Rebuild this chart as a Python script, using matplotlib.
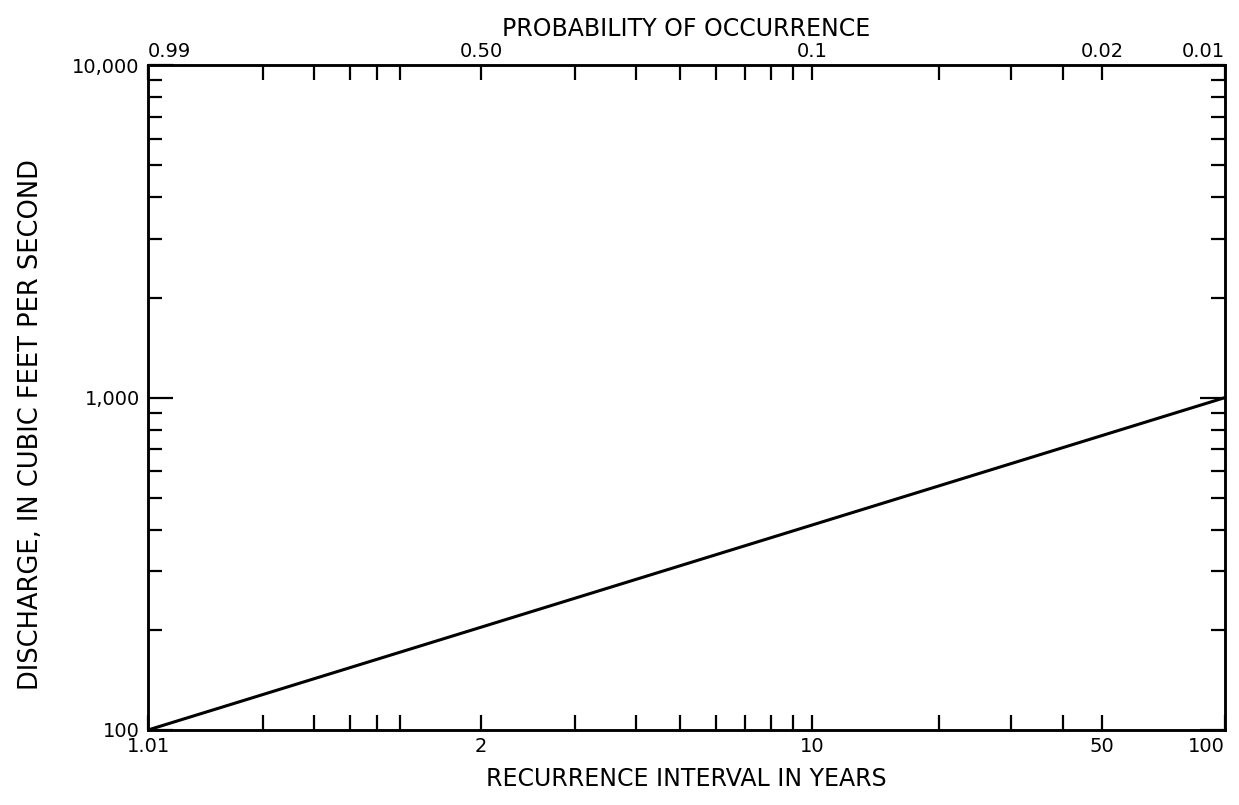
import numpy as np
import matplotlib
matplotlib.use("Agg")
import matplotlib.pyplot as plt
from matplotlib.ticker import FixedLocator, FuncFormatter, NullFormatter, LogLocator

# flood frequency curve, gumbel paper
recurrence = [1.01, 100]
discharge = [100, 1000]

x_major = [1.01, 2, 10, 50, 100]
x_major_labels = ["1.01", "2", "10", "50", "100"]
x_minor = [1.1, 1.2, 1.3, 1.4, 1.5, 3, 4, 5, 6, 7, 8, 9, 20, 30, 40]
prob_labels = ["0.99", "0.50", "0.1", "0.02", "0.01"]


def gumbel(T):
    T = np.asarray(T, dtype=float)
    with np.errstate(divide="ignore", invalid="ignore"):
        return -np.log(-np.log(1.0 - 1.0 / np.clip(T, 1.0000001, None)))


def gumbel_inv(y):
    y = np.asarray(y, dtype=float)
    with np.errstate(over="ignore", divide="ignore"):
        return 1.0 / (1.0 - np.exp(-np.exp(-y)))


plt.rcParams["font.family"] = ["DejaVu Sans"]
fs = 14
lfs = 17

fig = plt.figure(figsize=(12.39, 8.05), dpi=100)
ax = fig.add_axes([0.1195, 0.0932, 0.8692, 0.8258])

ax.plot(recurrence, discharge, color="black", lw=2.2, solid_capstyle="butt")

ax.set_xscale("function", functions=(gumbel, gumbel_inv))
ax.set_yscale("log")
ax.set_xlim(1.01, 100)
ax.set_ylim(100, 10000)

ax.set_xticks(x_major, x_major_labels)
ax.xaxis.set_minor_locator(FixedLocator(x_minor))
ax.xaxis.set_minor_formatter(NullFormatter())
ax.get_xticklabels()[-1].set_horizontalalignment("right")

ax.yaxis.set_major_locator(FixedLocator([100, 1000, 10000]))
ax.yaxis.set_major_formatter(FuncFormatter(lambda v, p: "{:,.0f}".format(v)))
ax.yaxis.set_minor_locator(LogLocator(base=10, subs=np.arange(2, 10)))
ax.yaxis.set_minor_formatter(NullFormatter())

ax.tick_params(axis="x", which="both", direction="in", length=11, width=1.6,
               bottom=True, top=False, labelsize=fs, pad=5)
ax.tick_params(axis="y", which="major", direction="in", length=18, width=1.6,
               left=True, right=True, labelsize=fs, pad=6)
ax.tick_params(axis="y", which="minor", direction="in", length=10, width=1.6,
               left=True, right=True)

# probability scale along the top
top = ax.twiny()
top.set_xscale("function", functions=(gumbel, gumbel_inv))
top.set_xlim(ax.get_xlim())
top.set_xticks(x_major, prob_labels)
top.xaxis.set_minor_locator(FixedLocator(x_minor))
top.xaxis.set_minor_formatter(NullFormatter())
top.tick_params(axis="x", which="both", direction="in", length=11, width=1.6,
                labelsize=fs, pad=3)
top.get_xticklabels()[0].set_horizontalalignment("left")
top.get_xticklabels()[-1].set_horizontalalignment("right")
top.set_xlabel("PROBABILITY OF OCCURRENCE", fontsize=lfs, labelpad=4)

for a in (ax, top):
    for s in a.spines.values():
        s.set_linewidth(1.8)

ax.set_xlabel("RECURRENCE INTERVAL IN YEARS", fontsize=lfs, labelpad=8)
ax.set_ylabel("DISCHARGE, IN CUBIC FEET PER SECOND", fontsize=18.5)
ax.yaxis.set_label_coords(-0.097, 0.46)

fig.savefig("out.png", dpi=100)
